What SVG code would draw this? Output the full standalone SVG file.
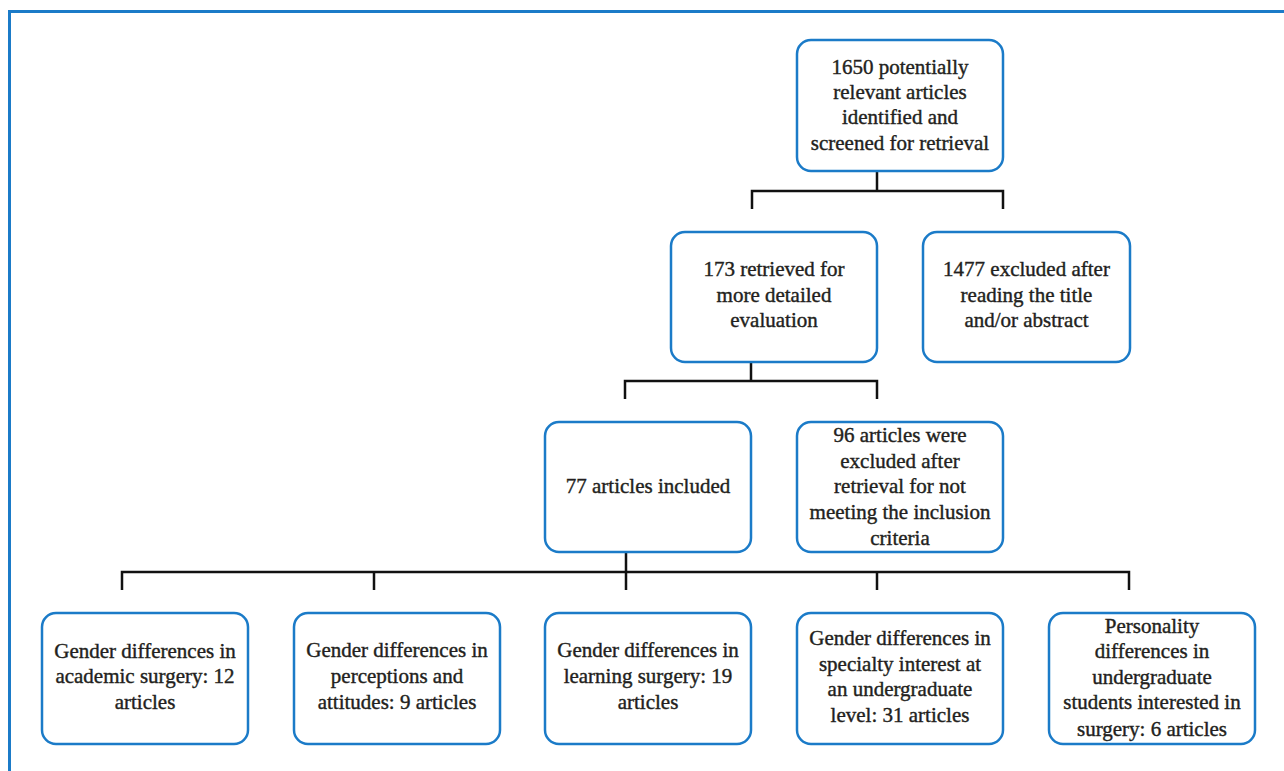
<svg xmlns="http://www.w3.org/2000/svg" width="1284" height="771" viewBox="0 0 1284 771">
<style>
.box{fill:#fff;stroke:#1b7bc8;stroke-width:2.5}
.t{font-family:"Liberation Serif","Times New Roman",serif;font-size:21px;fill:#231f20;stroke:#231f20;stroke-width:0.4;text-anchor:middle}
.c{fill:none;stroke:#111;stroke-width:2.5}
</style>
<rect width="1284" height="771" fill="#fff"/>
<path d="M9.5,771 V11.5 H1284" fill="none" stroke="#1b7bc8" stroke-width="3"/>
<g id="connectors">
<path class="c" d="M877,171 V191 M752,209 V191 H1003 V209"/>
<path class="c" d="M751,362 V381 M625,399 V381 H877 V399"/>
<path class="c" d="M626,552 V572 M122,590 V572 H1129 V590 M374,572 V590 M626,572 V590 M877,572 V590"/>
</g>
<g id="n1650">
<rect class="box" x="797" y="40" width="206" height="131" rx="14"/>
<text class="t"><tspan x="900" y="74">1650 potentially</tspan><tspan x="900" y="99">relevant articles</tspan><tspan x="900" y="124">identified and</tspan><tspan x="900" y="150">screened for retrieval</tspan></text>
</g>
<g id="n173">
<rect class="box" x="671" y="232" width="206" height="130" rx="14"/>
<text class="t"><tspan x="774" y="276">173 retrieved for</tspan><tspan x="774" y="302">more detailed</tspan><tspan x="774" y="327">evaluation</tspan></text>
</g>
<g id="n1477">
<rect class="box" x="923" y="232" width="207" height="130" rx="14"/>
<text class="t"><tspan x="1026.5" y="276">1477 excluded after</tspan><tspan x="1026.5" y="302">reading the title</tspan><tspan x="1026.5" y="327">and/or abstract</tspan></text>
</g>
<g id="n77">
<rect class="box" x="545" y="422" width="206" height="130" rx="14"/>
<text class="t"><tspan x="648" y="493">77 articles included</tspan></text>
</g>
<g id="n96">
<rect class="box" x="797" y="422" width="206" height="130" rx="14"/>
<text class="t"><tspan x="900" y="442">96 articles were</tspan><tspan x="900" y="468">excluded after</tspan><tspan x="900" y="493">retrieval for not</tspan><tspan x="900" y="519">meeting the inclusion</tspan><tspan x="900" y="545">criteria</tspan></text>
</g>
<g id="b1">
<rect class="box" x="42" y="613" width="206" height="131" rx="14"/>
<text class="t"><tspan x="145" y="658">Gender differences in</tspan><tspan x="145" y="683">academic surgery: 12</tspan><tspan x="145" y="709">articles</tspan></text>
</g>
<g id="b2">
<rect class="box" x="294" y="613" width="206" height="131" rx="14"/>
<text class="t"><tspan x="397" y="657">Gender differences in</tspan><tspan x="397" y="683">perceptions and</tspan><tspan x="397" y="709">attitudes: 9 articles</tspan></text>
</g>
<g id="b3">
<rect class="box" x="545" y="613" width="206" height="131" rx="14"/>
<text class="t"><tspan x="648" y="657">Gender differences in</tspan><tspan x="648" y="683">learning surgery: 19</tspan><tspan x="648" y="709">articles</tspan></text>
</g>
<g id="b4">
<rect class="box" x="797" y="613" width="206" height="131" rx="14"/>
<text class="t"><tspan x="900" y="645">Gender differences in</tspan><tspan x="900" y="671">specialty interest at</tspan><tspan x="900" y="696">an undergraduate</tspan><tspan x="900" y="722">level: 31 articles</tspan></text>
</g>
<g id="b5">
<rect class="box" x="1049" y="613" width="206" height="131" rx="14"/>
<text class="t"><tspan x="1152" y="633">Personality</tspan><tspan x="1152" y="658">differences in</tspan><tspan x="1152" y="684">undergraduate</tspan><tspan x="1152" y="709">students interested in</tspan><tspan x="1152" y="736">surgery: 6 articles</tspan></text>
</g>
</svg>
